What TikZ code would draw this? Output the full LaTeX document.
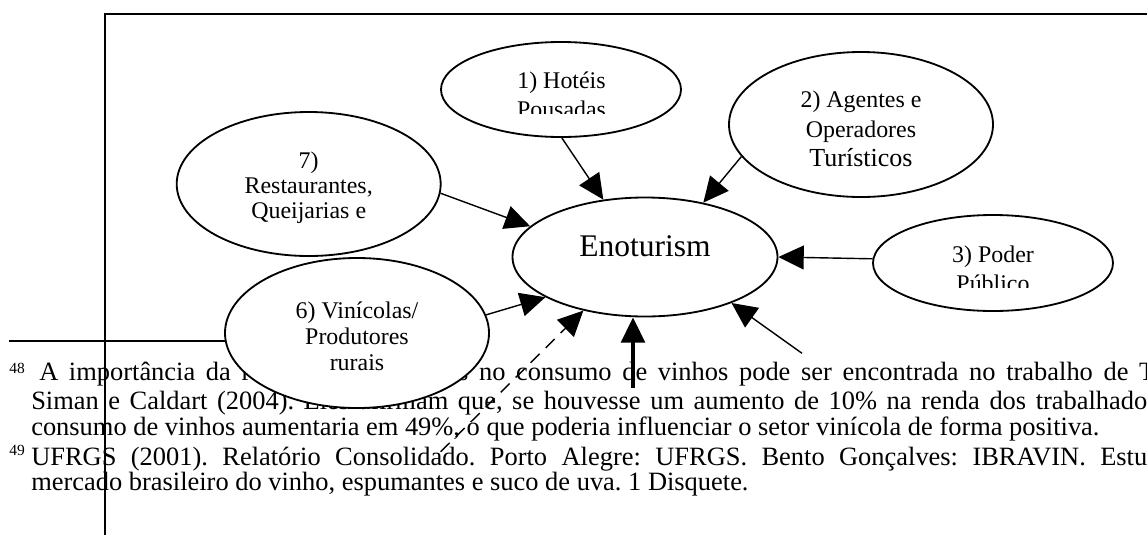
\documentclass[tikz,border=0pt]{standalone}
\usepackage{fontspec}
\setmainfont{Liberation Serif}
\usetikzlibrary{shapes.geometric,arrows.meta}
\newlength\pxu
\setlength\pxu{0.025cm}
\frenchspacing

\begin{document}
\begin{tikzpicture}[x=0.025cm,y=-0.025cm,
    bubble/.style={ellipse,draw,fill=white,line width=1.3pt,inner sep=0pt},
    lbl/.style={anchor=base,inner sep=0pt,font=\fontsize{17}{20}\selectfont},
    fn/.style={anchor=base west,inner sep=0pt,font=\fontsize{18.8}{22}\selectfont},
    fnmark/.style={anchor=base west,inner sep=0pt,font=\fontsize{11}{13}\selectfont},
    link/.style={line width=1pt,-{Triangle[length=18pt,width=17pt]}}]
\clip (0,0) rectangle (1147,535);
\fill[white] (0,0) rectangle (1147,535);
% rodape
\draw[line width=1.3pt] (9,340.7) -- (260,340.7);
\node[fnmark] (m48) at (9,373) {48};
\node[fn] (fn1) at (39,380) {\makebox[1116\pxu][s]{A importância da renda dos brasileiros no consumo de vinhos pode ser encontrada no trabalho de T}};
\node[fn] (fn2) at (31,409) {\makebox[1116\pxu][s]{Siman e Caldart (2004). Eles afirmam que, se houvesse um aumento de 10\% na renda dos trabalhado}};
\node[fn] (fn3) at (31,435) {consumo de vinhos aumentaria em 49\%, o que poderia influenciar o setor vinícola de forma positiva.};
\node[fnmark] (m49) at (9,455) {49};
\node[fn] (fn4) at (31,465) {\makebox[1116\pxu][s]{UFRGS (2001). Relatório Consolidado. Porto Alegre: UFRGS. Bento Gonçalves: IBRAVIN. Estu}};
\node[fn] (fn5) at (31,490) {mercado brasileiro do vinho, espumantes e suco de uva. 1 Disquete.};
% elipses
\node[bubble,minimum width=240\pxu,minimum height=95\pxu] (hot) at (561,89.5) {};
\node[bubble,minimum width=264\pxu,minimum height=145\pxu] (agt) at (861,124.5) {};
\node[bubble,minimum width=240\pxu,minimum height=96\pxu] (pod) at (993,263) {};
\node[bubble,minimum width=264\pxu,minimum height=144\pxu] (rst) at (308.7,184) {};
\node[bubble,minimum width=265\pxu,minimum height=119\pxu] (eno) at (645,257) {};
\node[bubble,minimum width=264\pxu,minimum height=150\pxu] (vin) at (357,333) {};
\begin{scope}
  \clip (430,40) rectangle (690,113.3);
  \node[lbl] (hot-1) at (561.5,88.3) {1) Hotéis};
  \node[lbl] (hot-2) at (561.5,117.7) {Pousadas};
\end{scope}
\node[lbl] (agt-1) at (861,107.3) {2) Agentes e};
\node[lbl] (agt-2) at (861,137.7) {Operadores};
\node[lbl,font=\fontsize{18.5}{21}\selectfont] (agt-3) at (861,166.7) {Turísticos};
\begin{scope}
  \clip (870,215) rectangle (1115,287.3);
  \node[lbl] (pod-1) at (993,262.3) {3) Poder};
  \node[lbl] (pod-2) at (993,291) {Público};
\end{scope}
\foreach \y/\t [count=\i] in {168.3/7), 193.3/{Restaurantes,}, 218/Queijarias e}
  \node[lbl] (rst-\i) at (308.7,\y) {\t};
\node[lbl,font=\fontsize{22.4}{26}\selectfont] (eno-1) at (645,256) {Enoturism};
\foreach \y/\t [count=\i] in {318.3/{6) Vinícolas/}, 344/Produtores, 370/rurais}
  \node[lbl] (vin-\i) at (357,\y) {\t};
% setas
\draw[link] (rst.-4) -- (eno.165);
\draw[link] (hot.-89) -- (eno.126);
\draw[link] (agt.195) -- (eno.43);
\draw[link] (pod.178) -- (eno.0);
\draw[link] (vin.8) -- (eno.202);
\coordinate (dsh) at (440.7,451.7);
\draw[link,dash pattern=on 9pt off 6pt] (dsh) -- (eno.221);
\coordinate (vst) at (633,388);
\draw[link,line width=2.4pt] (vst) -- (vst |- eno.south);
\coordinate (lrt) at (802,353.3);
\draw[link] (lrt) -- (eno.-28);
% moldura
\draw[line width=1.5pt] (105,535) -- (105,14) -- (1147,14);
\end{tikzpicture}
\end{document}
